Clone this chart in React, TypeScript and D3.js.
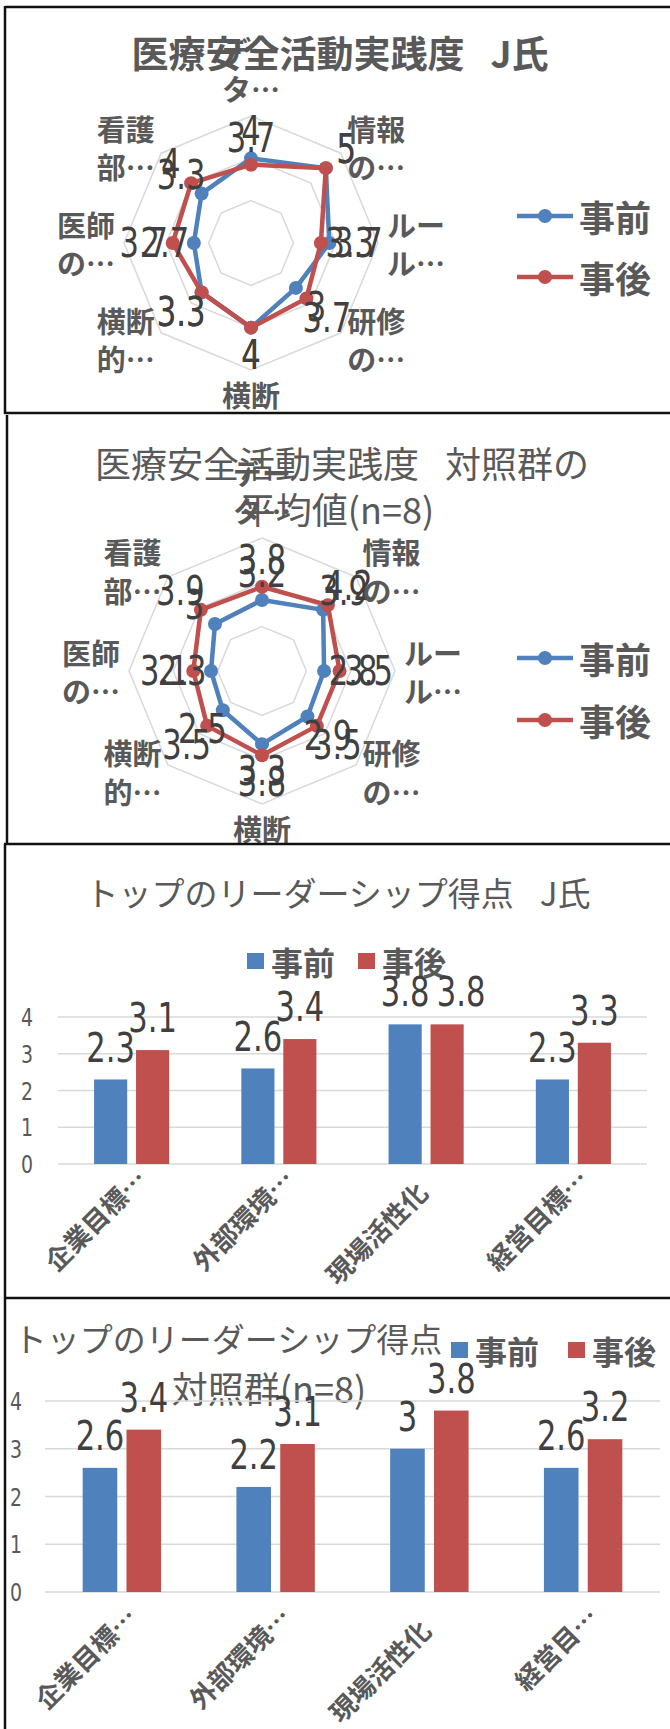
import React from 'react';
import * as d3 from 'd3';

// ---------- data ----------
const seriesNames = ['事前', '事後'];
const radarCategories: string[][] = [
  ['デー', 'タ…'],
  ['情報', 'の…'],
  ['ルー', 'ル…'],
  ['研修', 'の…'],
  ['横断'],
  ['横断', '的…'],
  ['医師', 'の…'],
  ['看護', '部…'],
];
const radarJBefore = [4, 5, 3.7, 3, 4, 3.3, 2.7, 3.3];
const radarJAfter = [3.7, 5, 3.3, 3.7, 4, 3.3, 3.7, 4];
const radarCtrlBefore = [3.2, 3.9, 2.8, 2.9, 3.3, 2.5, 2.3, 3];
const radarCtrlAfter = [3.8, 4.2, 3.5, 3.5, 3.8, 3.5, 3.1, 3.9];
const radarRings = [2, 4, 6];
const radarMax = 6;

const barCategoriesJ = ['企業目標…', '外部環境…', '現場活性化', '経営目標…'];
const barCategoriesCtrl = ['企業目標…', '外部環境…', '現場活性化', '経営目…'];
const barJBefore = [2.3, 2.6, 3.8, 2.3];
const barJAfter = [3.1, 3.4, 3.8, 3.3];
const barCtrlBefore = [2.6, 2.2, 3, 2.6];
const barCtrlAfter = [3.4, 3.1, 3.8, 3.2];
const barTicks = [0, 1, 2, 3, 4];

// ---------- style ----------
const BLUE = '#4F81BD';
const RED = '#C0504D';
const GRID = '#D9D9D9';
const TXT = '#595959';
const LBL = '#404040';
const CJK = "'Noto Sans CJK JP', sans-serif";
const NUM = "'DejaVu Sans Condensed', 'Liberation Sans', 'Noto Sans CJK JP', sans-serif";
const MIX = "'Noto Sans CJK JP', sans-serif";
const COLORS = [BLUE, RED];
const LABEL_SIZE = 34;
const LABEL_W = 46;
const STRETCH = 1.2;

// tall, narrow-looking number text (centred on x, y)
function Num({ x, y, size, fill, children }: { x: number; y: number; size: number; fill: string; children: React.ReactNode }) {
  return (
    <text transform={`translate(${x},${y}) scale(1,${STRETCH})`} x={0} y={0} fontFamily={NUM} fontSize={size}
      fill={fill} textAnchor="middle" dominantBaseline="central">{children}</text>
  );
}

type RadarProps = {
  cx: number; cy: number; R: number;
  series: number[][];
  legendX: number; legendY: number[];
};

function Radar({ cx, cy, R, series, legendX, legendY }: RadarProps) {
  const n = radarCategories.length;
  const r = d3.scaleLinear().domain([0, radarMax]).range([0, R]);
  const ang = (i: number) => (i * 2 * Math.PI) / n;
  const line = d3
    .lineRadial<number>()
    .angle((_, i) => ang(i))
    .radius((d) => r(d))
    .curve(d3.curveLinearClosed);
  const pt = (i: number, v: number) => [cx + r(v) * Math.sin(ang(i)), cy - r(v) * Math.cos(ang(i))];
  const offX = 29;
  const offY = 27;
  const catR = R + 9;
  const lh = 38.5;

  return (
    <g>
      {radarRings.map((v) => (
        <path key={v} d={line(d3.range(n).map(() => v)) || ''} transform={`translate(${cx},${cy})`}
          fill="none" stroke={GRID} strokeWidth={1.5} />
      ))}
      {series.map((s, si) => (
        <g key={si}>
          <path d={line(s) || ''} transform={`translate(${cx},${cy})`} fill="none"
            stroke={COLORS[si]} strokeWidth={4.5} strokeLinejoin="round" />
          {s.map((v, i) => {
            const [x, y] = pt(i, v);
            return <circle key={i} cx={x} cy={y} r={7} fill={COLORS[si]} />;
          })}
        </g>
      ))}
      {series.map((s, si) => (
        <g key={'l' + si}>
          {s.map((v, i) => {
            const [x, y] = pt(i, v);
            const lx = x + offX * Math.sin(ang(i));
            const ly = y - offY * Math.cos(ang(i));
            return <Num key={i} x={lx} y={ly} size={LABEL_SIZE} fill={LBL}>{String(v)}</Num>;
          })}
        </g>
      ))}
      {radarCategories.map((lines, i) => {
        const dx = Math.sin(ang(i));
        const dy = -Math.cos(ang(i));
        const ax = cx + catR * dx;
        const ay = cy + catR * dy;
        let anchor: 'start' | 'middle' | 'end' = 'middle';
        if (dx > 0.01) anchor = 'start';
        else if (dx < -0.01) anchor = 'end';
        const nL = lines.length;
        return lines.map((t, k) => {
          let yy: number;
          if (anchor === 'middle' && dy < 0) yy = ay - 19 - (nL - 1 - k) * lh;
          else if (anchor === 'middle') yy = ay + 15 + k * lh;
          else yy = ay + (k - (nL - 1) / 2) * lh;
          return (
            <text key={i + '-' + k} x={ax} y={yy} fontFamily={CJK} fontWeight={700} fontSize={29}
              fill={TXT} textAnchor={anchor} dominantBaseline="central">{t}</text>
          );
        });
      })}
      {seriesNames.map((nm, si) => (
        <g key={nm}>
          <line x1={legendX} x2={legendX + 56} y1={legendY[si]} y2={legendY[si]} stroke={COLORS[si]} strokeWidth={4.5} />
          <circle cx={legendX + 28} cy={legendY[si]} r={7} fill={COLORS[si]} />
          <text x={legendX + 62} y={legendY[si]} fontFamily={CJK} fontWeight={700} fontSize={36} fill={TXT}
            dominantBaseline="central">{nm}</text>
        </g>
      ))}
    </g>
  );
}

type BarProps = {
  x0: number; x1: number; yZero: number; yFour: number;
  cats: string[]; before: number[]; after: number[];
  tickX: number; catDy: number;
};

function Bars({ x0, x1, yZero, yFour, cats, before, after, tickX, catDy }: BarProps) {
  const x = d3.scaleBand<string>().domain(cats).range([x0, x1]).padding(0);
  const y = d3.scaleLinear().domain([0, 4]).range([yZero, yFour]);
  const bw = x.bandwidth() * 0.225;
  const gap = x.bandwidth() * 0.06;
  const vals = [before, after];
  return (
    <g>
      {barTicks.map((t) => (
        <g key={t}>
          <line x1={x0} x2={x1} y1={y(t)} y2={y(t)} stroke={GRID} strokeWidth={1.7} />
          <Num x={tickX} y={y(t)} size={21} fill={TXT}>{t}</Num>
        </g>
      ))}
      {cats.map((cat, i) => {
        const c = (x(cat) as number) + x.bandwidth() / 2;
        const bxs = [c - gap / 2 - bw, c + gap / 2];
        const lxs = bxs.map((b) => b + bw / 2);
        const lys = vals.map((vs) => y(vs[i]) - 32);
        // keep the two labels of a group apart when they sit at the same height
        if (Math.abs(lys[0] - lys[1]) < 25 && lxs[1] - lxs[0] < LABEL_W + 10) {
          lxs[1] = lxs[0] + LABEL_W + 10;
        }
        return (
          <g key={cat}>
            {vals.map((vs, si) => (
              <rect key={si} x={bxs[si]} y={y(vs[i])} width={bw} height={yZero - y(vs[i])} fill={COLORS[si]} />
            ))}
            {vals.map((vs, si) => (
              <Num key={'t' + si} x={lxs[si]} y={lys[si]} size={LABEL_SIZE} fill={LBL}>{String(vs[i])}</Num>
            ))}
          </g>
        );
      })}
      {cats.map((c) => {
        const cx = (x(c) as number) + x.bandwidth() / 2;
        const back = c.endsWith('…') ? 0 : 19;
        return (
          <text key={c} transform={`translate(${cx + 17},${yZero + catDy}) rotate(-45)`} x={-back} y={0}
            fontFamily={CJK} fontWeight={700} fontSize={26} fill={TXT} textAnchor="end">{c}</text>
        );
      })}
    </g>
  );
}

function BarLegend({ x, y, gap }: { x: number; y: number; gap: number }) {
  return (
    <g>
      {seriesNames.map((nm, si) => (
        <g key={nm}>
          <rect x={x + si * gap} y={y - 8} width={17} height={16} fill={COLORS[si]} />
          <text x={x + si * gap + 24} y={y} fontFamily={CJK} fontWeight={700} fontSize={32} fill={TXT}
            dominantBaseline="central">{nm}</text>
        </g>
      ))}
    </g>
  );
}

export default function App() {
  const border = '#111';
  return (
    <svg width={670} height={1729} style={{ position: 'absolute', left: 0, top: 0, background: '#fff' }}>
      <rect x={0} y={0} width={670} height={1729} fill="#fff" />
      {/* chart 1 */}
      <g>
        <Radar cx={251} cy={243} R={127} series={[radarJBefore, radarJAfter]} legendX={517} legendY={[216, 277]} />
        <text x={340} y={52} fontFamily={MIX} fontWeight={700} fontSize={37} fill={TXT} textAnchor="middle"
          dominantBaseline="central">
          <tspan>医療安全活動実践度</tspan><tspan dx={26}>J氏</tspan>
        </text>
        <line x1={5} x2={670} y1={7} y2={7} stroke={border} strokeWidth={2.5} />
        <line x1={5} x2={5} y1={6} y2={414} stroke={border} strokeWidth={2.5} />
        <line x1={4} x2={670} y1={413} y2={413} stroke={border} strokeWidth={2.5} />
      </g>
      {/* chart 2 */}
      <g>
        <Radar cx={262} cy={671} R={133} series={[radarCtrlBefore, radarCtrlAfter]} legendX={517} legendY={[658, 720]} />
        <text x={342} y={462} fontFamily={MIX} fontSize={36} fill={TXT} textAnchor="middle" dominantBaseline="central">
          <tspan>医療安全活動実践度</tspan><tspan dx={26}>対照群の</tspan>
        </text>
        <text x={337} y={508} fontFamily={MIX} fontSize={36} fill={TXT} textAnchor="middle" dominantBaseline="central">
          平均値(n=8)
        </text>
        <line x1={7} x2={7} y1={415} y2={845} stroke={border} strokeWidth={2.5} />
      </g>
      {/* chart 3 */}
      <g>
        <rect x={0} y={844} width={670} height={454} fill="#fff" />
        <text x={338} y={892} fontFamily={MIX} fontSize={33} fill={TXT} textAnchor="middle" dominantBaseline="central">
          <tspan>トップのリーダーシップ得点</tspan><tspan dx={26}>J氏</tspan>
        </text>
        <BarLegend x={247} y={961} gap={111} />
        <Bars x0={58} x1={647} yZero={1164} yFour={1017} cats={barCategoriesJ} before={barJBefore} after={barJAfter} tickX={27} catDy={17} />
        <line x1={4} x2={670} y1={844} y2={844} stroke={border} strokeWidth={2.5} />
        <line x1={5} x2={5} y1={844} y2={1298} stroke={border} strokeWidth={2.5} />
      </g>
      {/* chart 4 */}
      <g>
        <rect x={0} y={1298} width={670} height={431} fill="#fff" />
        <text x={228} y={1338} fontFamily={MIX} fontSize={33} fill={TXT} textAnchor="middle" dominantBaseline="central">
          トップのリーダーシップ得点
        </text>
        <text x={269} y={1387} fontFamily={MIX} fontSize={36} fill={TXT} textAnchor="middle" dominantBaseline="central">
          対照群(n=8)
        </text>
        <BarLegend x={451} y={1350} gap={117} />
        <Bars x0={45} x1={660} yZero={1592} yFour={1401} cats={barCategoriesCtrl} before={barCtrlBefore} after={barCtrlAfter} tickX={16} catDy={27} />
        <line x1={4} x2={670} y1={1298} y2={1298} stroke={border} strokeWidth={2.5} />
        <line x1={5} x2={5} y1={1298} y2={1729} stroke={border} strokeWidth={2.5} />
      </g>
    </svg>
  );
}
